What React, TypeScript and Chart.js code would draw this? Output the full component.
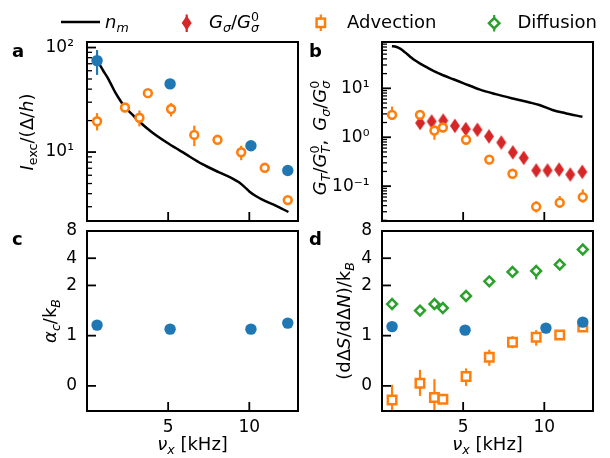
import React, { useEffect, useRef } from 'react';
import { Chart, registerables, LinearScale } from 'chart.js';

Chart.register(...registerables);

const FONT = "'DejaVu Sans', 'Liberation Sans', sans-serif";
const BLUE = '#1f77b4';
const ORANGE = '#ff7f0e';
const GREEN = '#2ca02c';
const RED = '#d62728';

// ---------- shared x axis (nu_x, kHz)
const xTickValues = [5, 10];
const xRange = [0, 13];
const xBlue = [0.62, 5.12, 10.1, 12.37];
const xAdv = [0.62, 2.34, 3.23, 3.75, 5.18, 6.61, 8.04, 9.5, 10.95, 12.37];
const xGs = [2.35, 3.06, 3.77, 4.49, 5.16, 5.88, 6.59, 7.35, 8.06, 8.73, 9.5, 10.2, 10.91, 11.6, 12.34];

// ---------- panel a (log y)
const aYTicks = [10, 100];
const aYRange = [2.19, 113];
const aNmX = [0.62, 0.8, 1.0, 1.25, 1.5, 1.75, 2.0, 2.33, 2.8, 3.2, 4.0, 5.04, 6.06, 7.08, 8.11, 9.0, 9.34, 9.7, 10.0, 10.4, 10.77, 11.2, 11.59, 12.41];
const aNmY = [75, 68, 60, 52, 44, 37, 32, 27, 22.8, 19.7, 15.5, 12.0, 9.6, 7.71, 6.43, 5.55, 5.16, 4.65, 4.2, 3.8, 3.53, 3.28, 3.09, 2.67];
const aBlueY = [75, 44.9, 11.5, 6.67];
const aBlueLo = [54.7, null, null, null];
const aBlueHi = [94.6, null, null, null];
const aAdvY = [19.7, 26.7, 21.3, 36.6, 25.8, 14.6, 13.1, 9.96, 7.07, 3.47];
const aAdvLo = [16.1, 25.2, 17.6, null, 21.9, 11.4, null, 8.36, 6.4, null];
const aAdvHi = [23.6, 28.3, 25.0, null, 29.4, 17.9, null, 11.5, 7.7, null];

// ---------- panel b (log y)
const bYTicks = [0.1, 1, 10];
const bYRange = [0.0194, 88.5];
const bNmX = [0.61, 0.8, 1.0, 1.2, 1.4, 1.6, 1.8, 2.0, 2.35, 2.8, 3.2, 3.8, 4.4, 5.0, 6.0, 7.0, 8.06, 9.1, 9.7, 10.5, 11.3, 12.35];
const bNmY = [72.4, 71.5, 68, 62, 55, 48.5, 42.5, 37.8, 32, 26.5, 22.5, 18.3, 15.3, 12.8, 9.5, 7.6, 6.2, 5.15, 4.55, 3.6, 3.1, 2.62];
const bGsY = [1.95, 2.1, 2.19, 1.71, 1.47, 1.42, 1.04, 0.78, 0.49, 0.378, 0.209, 0.209, 0.218, 0.173, 0.196];
const bAdvY = [2.87, 2.87, 1.37, 1.58, 0.89, 0.349, 0.179, 0.0381, 0.046, 0.0597];
const bAdvLo = [2.27, null, 0.89, null, null, null, null, 0.0289, 0.036, 0.046];
const bAdvHi = [4.23, null, 1.71, null, null, null, null, 0.0495, 0.063, 0.0857];

// ---------- panels c, d (symlog y)
const cdYTicks = [0, 1, 2, 4, 8];
const cdYRange = [-0.5, 8];
const cBlueY = [1.21, 1.13, 1.13, 1.25];
const dBlueY = [1.18, 1.11, 1.15, 1.27];
const dAdvY = [-0.28, 0.054, -0.232, -0.266, 0.188, 0.568, 0.868, 0.968, 1.014, 1.17];
const dAdvLo = [-0.6, -0.2, -0.55, null, 0.0, 0.4, 0.75, 0.8, null, null];
const dAdvHi = [0.02, 0.32, 0.134, null, 0.348, 0.72, 0.99, 1.11, null, null];
const dDifY = [1.63, 1.5, 1.63, 1.55, 1.79, 2.22, 2.82, 2.89, 3.4, 4.99];
const dDifLo = [null, null, null, null, null, null, null, 2.33, null, null];
const dDifHi = [null, null, null, null, null, null, null, 3.3, null, null];

// ---------- symlog scale (matplotlib style, linthresh 2, base 10, linscale 1)
const LT = 2;
const LS = 1 / (1 - 1 / 10);
const symT = (v: number) => {
  const a = Math.abs(v);
  return a <= LT ? v * LS : Math.sign(v) * LT * (LS + Math.log10(a / LT));
};
const symInv = (t: number) => {
  const a = Math.abs(t);
  return a <= LT * LS ? t / LS : Math.sign(t) * LT * Math.pow(10, a / LT - LS);
};

class SymlogScale extends LinearScale {
  static id = 'symlog';
  buildTicks() {
    return cdYTicks.filter((v) => v >= this.min && v <= this.max).map((v) => ({ value: v }));
  }
  getPixelForValue(v: any) {
    if (v === null || v === undefined) return NaN;
    const t0 = symT(this.min);
    const t1 = symT(this.max);
    return this.getPixelForDecimal((symT(v) - t0) / (t1 - t0));
  }
  getValueForPixel(p: number) {
    const t0 = symT(this.min);
    const t1 = symT(this.max);
    return symInv(t0 + this.getDecimalForPixel(p) * (t1 - t0));
  }
}
Chart.register(SymlogScale as any);

const SUP: Record<string, string> = { '-': '\u207B', '0': '\u2070', '1': '\u00B9', '2': '\u00B2', '3': '\u00B3' };
const pow10Label = (v: number) => {
  const k = Math.round(Math.log10(v));
  return '10' + String(k).split('').map((c) => SUP[c] || c).join('');
};

const tickFont = { family: FONT, size: 17 };

const panelPlugin = {
  id: 'panelDeco',
  beforeDatasetDraw(chart: any, args: any) {
    const ds = chart.data.datasets[args.index];
    if (!ds.errLo) return;
    const { ctx, chartArea: a, scales } = chart;
    ctx.save();
    ctx.beginPath();
    ctx.rect(a.left, a.top, a.right - a.left, a.bottom - a.top);
    ctx.clip();
    ctx.strokeStyle = ds.errColor;
    ctx.lineWidth = 2.2;
    ctx.lineCap = 'butt';
    ds.data.forEach((p: any, i: number) => {
      const lo = ds.errLo[i];
      const hi = ds.errHi[i];
      if (lo == null || hi == null) return;
      const px = scales.x.getPixelForValue(p.x);
      ctx.beginPath();
      ctx.moveTo(px, scales.y.getPixelForValue(lo));
      ctx.lineTo(px, scales.y.getPixelForValue(hi));
      ctx.stroke();
    });
    ctx.restore();
  },
  afterDraw(chart: any) {
    const { ctx, chartArea: a, scales } = chart;
    const xs = scales.x;
    const ys = scales.y;
    ctx.save();
    ctx.strokeStyle = '#000';
    ctx.lineCap = 'butt';
    const seg = (x1: number, y1: number, x2: number, y2: number, w: number) => {
      ctx.lineWidth = w;
      ctx.beginPath();
      ctx.moveTo(x1, y1);
      ctx.lineTo(x2, y2);
      ctx.stroke();
    };
    xTickValues.forEach((v) => {
      const px = xs.getPixelForValue(v);
      seg(px, a.bottom, px, a.bottom - 9, 1.8);
    });
    if (ys.type === 'logarithmic') {
      const lo = Math.floor(Math.log10(ys.min));
      const hi = Math.ceil(Math.log10(ys.max));
      for (let k = lo; k <= hi; k++) {
        for (let m = 1; m <= 9; m++) {
          const v = m * Math.pow(10, k);
          if (v < ys.min || v > ys.max) continue;
          const py = ys.getPixelForValue(v);
          if (m === 1) seg(a.left, py, a.left + 9, py, 1.8);
          else seg(a.left, py, a.left + 5, py, 1.3);
        }
      }
    } else {
      cdYTicks.forEach((v) => {
        const py = ys.getPixelForValue(v);
        seg(a.left, py, a.left + 9, py, 1.8);
      });
    }
    ctx.lineWidth = 2;
    ctx.strokeRect(a.left, a.top, a.right - a.left, a.bottom - a.top);
    ctx.restore();
  },
};

const pts = (xs: number[], ys: number[]) => xs.map((x, i) => ({ x, y: ys[i] }));

const noGrid = { display: false, drawTicks: false, tickLength: 0 };

const xScale = (show: boolean) => ({
  type: 'linear',
  min: xRange[0],
  max: xRange[1],
  display: show,
  grid: noGrid,
  border: { display: false },
  afterBuildTicks: (s: any) => {
    s.ticks = xTickValues.map((v) => ({ value: v }));
  },
  afterFit: (s: any) => {
    s.height = show ? 47 : 0;
  },
  ticks: { font: tickFont, color: '#000', padding: 6, maxRotation: 0, autoSkip: false, callback: (v: any) => String(v) },
});

const logY = (range: number[], tickVals: number[], pad: number) => ({
  type: 'logarithmic',
  min: range[0],
  max: range[1],
  grid: noGrid,
  border: { display: false },
  afterBuildTicks: (s: any) => {
    s.ticks = tickVals.map((v) => ({ value: v }));
  },
  afterFit: (s: any) => {
    s.width = 80;
  },
  ticks: { font: tickFont, color: '#000', padding: pad, autoSkip: false, callback: (v: any) => pow10Label(Number(v)) },
});

const symY = (pad: number) => ({
  type: 'symlog',
  min: cdYRange[0],
  max: cdYRange[1],
  grid: noGrid,
  border: { display: false },
  afterFit: (s: any) => {
    s.width = 80;
  },
  ticks: { font: tickFont, color: '#000', padding: pad, autoSkip: false, callback: (v: any) => String(v) },
});

const blueStyle = { pointStyle: 'circle', pointRadius: 5.7, pointBackgroundColor: BLUE, pointBorderColor: BLUE, pointBorderWidth: 0 };
const advCircle = { pointStyle: 'circle', pointRadius: 3.9, pointBackgroundColor: '#fff', pointBorderColor: ORANGE, pointBorderWidth: 2.6 };
const advSquare = { pointStyle: 'rect', pointRadius: 6.0, pointBackgroundColor: '#fff', pointBorderColor: ORANGE, pointBorderWidth: 2.5 };
const difDiamond = { pointStyle: 'rectRot', pointRadius: 4.9, pointBackgroundColor: '#fff', pointBorderColor: GREEN, pointBorderWidth: 2.5 };
const lineStyle = { showLine: true, pointRadius: 0, borderColor: '#000', borderWidth: 2.5, cubicInterpolationMode: 'monotone', fill: false };

function thinDiamond() {
  const c = document.createElement('canvas');
  c.width = 12;
  c.height = 16;
  const g = c.getContext('2d')!;
  g.fillStyle = RED;
  g.beginPath();
  g.moveTo(6 - 5, 8);
  g.lineTo(6, 8 - 7.3);
  g.lineTo(6 + 5, 8);
  g.lineTo(6, 8 + 7.3);
  g.closePath();
  g.fill();
  return c;
}

function makeChart(canvas: HTMLCanvasElement, padding: any, xShow: boolean, y: any, datasets: any[]) {
  return new Chart(canvas, {
    type: 'scatter',
    data: { datasets },
    options: {
      animation: false,
      responsive: false,
      devicePixelRatio: 1,
      events: [],
      layout: { padding },
      plugins: { legend: { display: false }, tooltip: { enabled: false } },
      scales: { x: xScale(xShow), y },
    } as any,
    plugins: [panelPlugin as any],
  });
}

const Sub = ({ children }: any) => <span style={{ fontSize: '70%', position: 'relative', top: '0.3em' }}>{children}</span>;
const I = ({ children }: any) => <span style={{ fontStyle: 'italic' }}>{children}</span>;
const SubSup = ({ sub, sup }: any) => (
  <span style={{ fontSize: '70%', display: 'inline-block', position: 'relative', lineHeight: '18px' }}>
    <span style={{ position: 'relative', top: '-0.55em' }}>{sup}</span>
    <span style={{ position: 'absolute', left: 0, top: '0.3em' }}>{sub}</span>
  </span>
);

const textBase: any = { position: 'absolute', fontSize: 18, lineHeight: '18px', whiteSpace: 'nowrap', color: '#000' };

const TextAt = ({ x, baseline, center, bold, children }: any) => (
  <div
    style={{
      ...textBase,
      left: x,
      top: baseline - 15.2,
      fontWeight: bold ? 'bold' : 'normal',
      transform: center ? 'translateX(-50%)' : undefined,
    }}
  >
    {children}
  </div>
);

const VLabel = ({ cx, cy, children }: any) => (
  <div style={{ ...textBase, left: cx, top: cy, transform: 'translate(-50%, -50%) rotate(-90deg)' }}>{children}</div>
);

export default function App() {
  const ra = useRef<HTMLCanvasElement>(null);
  const rb = useRef<HTMLCanvasElement>(null);
  const rc = useRef<HTMLCanvasElement>(null);
  const rd = useRef<HTMLCanvasElement>(null);

  useEffect(() => {
    const redMarker = thinDiamond();
    const charts = [
      makeChart(ra.current!, { left: 7, right: 312, top: 42, bottom: 237 }, false, logY(aYRange, aYTicks, 13), [
        { data: pts(xBlue, aBlueY), ...blueStyle, errLo: aBlueLo, errHi: aBlueHi, errColor: BLUE },
        { data: pts(xAdv, aAdvY), ...advCircle, errLo: aAdvLo, errHi: aAdvHi, errColor: ORANGE },
        { data: pts(aNmX, aNmY), ...lineStyle },
      ]),
      makeChart(rb.current!, { left: 302, right: 17, top: 42, bottom: 237 }, false, logY(bYRange, bYTicks, 12.5), [
        { data: pts(xAdv, bAdvY), ...advCircle, errLo: bAdvLo, errHi: bAdvHi, errColor: ORANGE },
        { data: pts(xGs, bGsY), pointStyle: redMarker, pointRadius: 6 },
        { data: pts(bNmX, bNmY), ...lineStyle },
      ]),
      makeChart(rc.current!, { left: 7, right: 312, top: 231, bottom: 0 }, true, symY(10), [
        { data: pts(xBlue, cBlueY), ...blueStyle },
      ]),
      makeChart(rd.current!, { left: 302, right: 17, top: 231, bottom: 0 }, true, symY(10), [
        { data: pts(xBlue, dBlueY), ...blueStyle },
        { data: pts(xAdv, dAdvY), ...advSquare, errLo: dAdvLo, errHi: dAdvHi, errColor: ORANGE },
        { data: pts(xAdv, dDifY), ...difDiamond, errLo: dDifLo, errHi: dDifHi, errColor: GREEN },
      ]),
    ];
    return () => charts.forEach((c) => c.destroy());
  }, []);

  const cv: any = { position: 'absolute', left: 0, top: 0, width: 610, height: 458 };
  const nu = (
    <>
      <I>ν</I>
      <Sub>
        <I>x</I>
      </Sub>{' '}
      [kHz]
    </>
  );

  return (
    <div style={{ position: 'fixed', left: 0, top: 0, width: 610, height: 458, background: '#fff', fontFamily: FONT, overflow: 'hidden' }}>
      <canvas ref={ra} width={610} height={458} style={cv} />
      <canvas ref={rb} width={610} height={458} style={cv} />
      <canvas ref={rc} width={610} height={458} style={cv} />
      <canvas ref={rd} width={610} height={458} style={cv} />

      {/* legend */}
      <svg width={610} height={40} style={{ position: 'absolute', left: 0, top: 0 }}>
        <line x1={61} y1={22} x2={100} y2={22} stroke="#000" strokeWidth={2.5} />
        <line x1={186.7} y1={14.5} x2={186.7} y2={32} stroke={RED} strokeWidth={2.2} />
        <polygon points="181.7,23 186.7,15.7 191.7,23 186.7,30.3" fill={RED} />
        <line x1={320.8} y1={14.5} x2={320.8} y2={31} stroke={ORANGE} strokeWidth={2.2} />
        <rect x={316.6} y={18.6} width={8.4} height={8.4} fill="#fff" stroke={ORANGE} strokeWidth={2.5} />
        <line x1={494.2} y1={15} x2={494.2} y2={31.5} stroke={GREEN} strokeWidth={2.2} />
        <polygon points="489,23.2 494.2,18 499.4,23.2 494.2,28.4" fill="#fff" stroke={GREEN} strokeWidth={2.5} />
      </svg>
      <TextAt x={105} baseline={28.5}>
        <I>n</I>
        <Sub>
          <I>m</I>
        </Sub>
      </TextAt>
      <TextAt x={209} baseline={28.5}>
        <I>G</I>
        <Sub>
          <I>σ</I>
        </Sub>
        /<I>G</I>
        <SubSup sup="0" sub={<I>σ</I>} />
      </TextAt>
      <TextAt x={347} baseline={28.5}>
        Advection
      </TextAt>
      <TextAt x={517.5} baseline={28.5}>
        Diffusion
      </TextAt>

      {/* panel letters */}
      <TextAt x={12} baseline={57} bold>
        a
      </TextAt>
      <TextAt x={309} baseline={57} bold>
        b
      </TextAt>
      <TextAt x={12} baseline={245.5} bold>
        c
      </TextAt>
      <TextAt x={309} baseline={245.5} bold>
        d
      </TextAt>

      {/* y titles */}
      <VLabel cx={27.8} cy={131.5}>
        <I>I</I>
        <Sub>exc</Sub>/(Δ/<I>h</I>)
      </VLabel>
      <VLabel cx={320.8} cy={137.5}>
        <I>G</I>
        <Sub>
          <I>T</I>
        </Sub>
        /<I>G</I>
        <SubSup sup="0" sub={<I>T</I>} />,{'\u2002'}
        <I>G</I>
        <Sub>
          <I>σ</I>
        </Sub>
        /<I>G</I>
        <SubSup sup="0" sub={<I>σ</I>} />
      </VLabel>
      <VLabel cx={51.3} cy={320.5}>
        <I>α</I>
        <Sub>
          <I>c</I>
        </Sub>
        /k
        <Sub>
          <I>B</I>
        </Sub>
      </VLabel>
      <VLabel cx={344.8} cy={320.5}>
        (dΔ<I>S</I>/dΔ<I>N</I>)/k
        <Sub>
          <I>B</I>
        </Sub>
      </VLabel>

      {/* x titles */}
      <TextAt x={192.5} baseline={450.5} center>
        {nu}
      </TextAt>
      <TextAt x={487.5} baseline={450.5} center>
        {nu}
      </TextAt>
    </div>
  );
}
